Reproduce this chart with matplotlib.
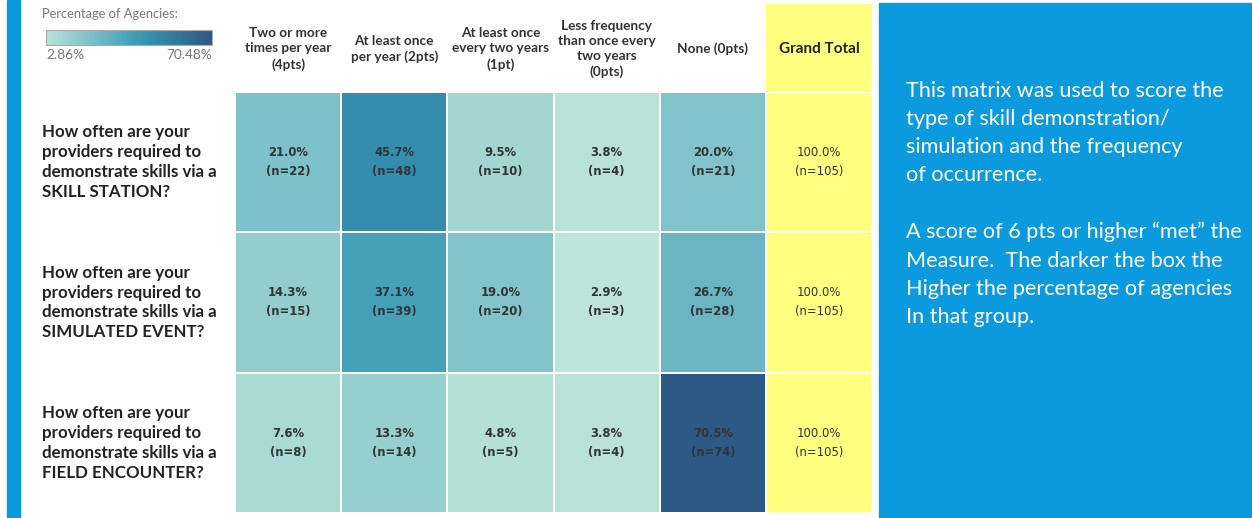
import matplotlib
matplotlib.use("Agg")
import matplotlib.pyplot as plt
import numpy as np
from matplotlib.colors import LinearSegmentedColormap, Normalize
from matplotlib.patches import Rectangle

# ---------------- data ----------------
columns = ["Two or more\ntimes per year\n(4pts)",
           "At least once\nper year (2pts)",
           "At least once\nevery two years\n(1pt)",
           "Less frequency\nthan once every\ntwo years\n(0pts)",
           "None (0pts)"]
total_label = "Grand Total"
questions = ["How often are your\nproviders required to\ndemonstrate skills via a\nSKILL STATION?",
             "How often are your\nproviders required to\ndemonstrate skills via a\nSIMULATED EVENT?",
             "How often are your\nproviders required to\ndemonstrate skills via a\nFIELD ENCOUNTER?"]
skill_station = [22, 48, 10, 4, 21]
simulated_event = [15, 39, 20, 3, 28]
field_encounter = [8, 14, 5, 4, 74]
total_agencies = [105, 105, 105]
legend_title = "Percentage of Agencies:"
note_lines = ["This matrix was used to score the",
              "type of skill demonstration/",
              "simulation and the frequency",
              "of occurrence.",
              "",
              "A score of 6 pts or higher \u201cmet\u201d the",
              "Measure.  The darker the box the",
              "Higher the percentage of agencies",
              "In that group."]

counts = np.array([skill_station, simulated_event, field_encounter], dtype=float)
pct = counts / np.array(total_agencies)[:, None] * 100

blue_teal = ['#bce4d8', '#aedcd5', '#a1d5d2', '#95cecf', '#89c8cc', '#7ec1ca',
             '#72bac6', '#66b2c2', '#59acbe', '#4ba5ba', '#419eb6', '#3b96b2',
             '#358ead', '#3586a7', '#347ea1', '#32779b', '#316f96', '#2f6790',
             '#2d608a', '#2c5985']
cmap = LinearSegmentedColormap.from_list("blueteal", blue_teal)
norm = Normalize(vmin=pct.min(), vmax=pct.max())

W, H = 1252, 518
fig = plt.figure(figsize=(W / 100, H / 100), dpi=100)
fig.patch.set_facecolor("white")

def box(x0, y0, x1, y1):
    return [x0 / W, 1 - y1 / H, (x1 - x0) / W, (y1 - y0) / H]

# left blue stripe and right panel
fig.patches.append(Rectangle((7 / W, 0), 13 / W, 1, transform=fig.transFigure,
                             color="#0b9ade", zorder=0))
fig.patches.append(Rectangle((879 / W, 0), (W - 879) / W, 1 - 3 / H,
                             transform=fig.transFigure, color="#0b9ade", zorder=0))

ncol = len(columns) + 1
nrow = len(questions)

# ---- heatmap ----
ax = fig.add_axes(box(235, 92, 872, 513))
ax.pcolormesh(np.arange(len(columns) + 1), np.arange(nrow + 1), pct,
              cmap=cmap, norm=norm, edgecolors="white", linewidth=1.2)
ax.bar([len(columns) + 0.5] * nrow, [1] * nrow, width=1, bottom=np.arange(nrow),
       color="#ffff80", edgecolor="white", linewidth=1.2)
ax.set_xlim(0, ncol)
ax.set_ylim(nrow, 0)
ax.axis("off")
for i in range(nrow):
    for j in range(len(columns)):
        ax.text(j + 0.5, i + 0.5, f"{pct[i, j]:.1f}%\n(n={int(counts[i, j])})",
                ha="center", va="center", fontsize=8.4, fontweight="bold",
                color="#333333", family="DejaVu Sans", linespacing=1.6)
    ax.text(len(columns) + 0.5, i + 0.5,
            f"{100 * counts[i].sum() / total_agencies[i]:.1f}%\n(n={total_agencies[i]})",
            ha="center", va="center", fontsize=8.4, color="#333333",
            family="DejaVu Sans", linespacing=1.6)
    ax.text(-193 / 106.2, i + 0.5, questions[i], ha="left", va="center",
            fontsize=12.2, fontweight="bold", color="#222222", family="Lato",
            linespacing=1.3)

# ---- header ----
hx = fig.add_axes(box(235, 4, 872, 92))
hx.bar([len(columns) + 0.5], [1], width=1, color="#ffff80")
hx.set_xlim(0, ncol)
hx.set_ylim(0, 1)
hx.axis("off")
for j, c in enumerate(columns):
    hx.text(j + 0.5, 0.49, c, ha="center", va="center", fontsize=9.8,
            fontweight="bold", color="#333333", family="Lato", linespacing=1.32)
hx.text(len(columns) + 0.5, 0.49, total_label, ha="center", va="center",
        fontsize=11, fontweight="bold", color="#222222", family="Lato")

# ---- legend colorbar ----
cax = fig.add_axes(box(46, 30, 212, 45))
sm = plt.cm.ScalarMappable(norm=norm, cmap=cmap)
cb = fig.colorbar(sm, cax=cax, orientation="horizontal")
cb.set_ticks([])
cb.outline.set_edgecolor("#aaaaaa")
fig.text(42 / W, 1 - 14 / H, legend_title, ha="left", va="center",
         fontsize=9.3, color="#777777", family="Lato")
fig.text(46 / W, 1 - 55 / H, f"{pct.min():.2f}%", ha="left", va="center",
         fontsize=9.8, color="#777777", family="Lato")
fig.text(212 / W, 1 - 55 / H, f"{pct.max():.2f}%", ha="right", va="center",
         fontsize=9.8, color="#777777", family="Lato")

# ---- note text ----
fig.text(906 / W, 1 - 81 / H, "\n".join(note_lines), ha="left", va="top",
         fontsize=15.6, color="white", family="Lato", linespacing=1.51)

fig.savefig("out.png", dpi=100)
